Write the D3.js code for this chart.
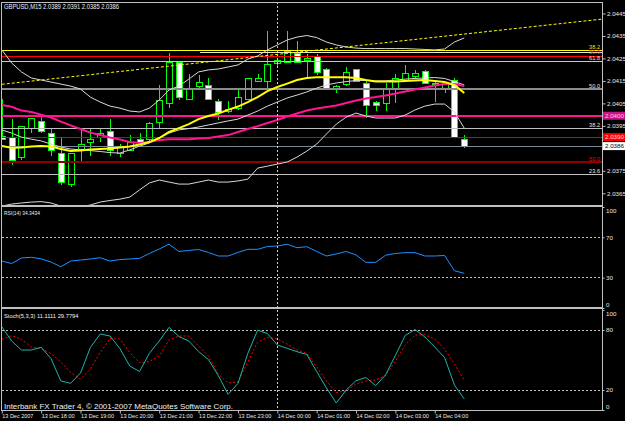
<!DOCTYPE html>
<html><head><meta charset="utf-8">
<script src="https://cdn.jsdelivr.net/npm/d3@7"></script>
<style>
body{margin:0;background:#000}
svg{display:block}
text{font-family:"Liberation Sans",Arial,sans-serif}
</style></head>
<body><svg id="c" width="625" height="421"></svg>
<script>
// ---------- DATA ----------
const mainTitle = "GBPUSD,M15  2.0389 2.0391 2.0385 2.0386";
const rsiTitle = "RSI(14) 34.3434";
const stochTitle = "Stoch(5,3,3) 11.1111 29.7794";
const copyright = "Interbank FX Trader 4, \u00a9 2001-2007 MetaQuotes Software Corp.";
const timeLabels = ["13 Dec 2007","13 Dec 18:00","13 Dec 19:00","13 Dec 20:00","13 Dec 21:00","13 Dec 22:00","13 Dec 23:00","14 Dec 00:00","14 Dec 01:00","14 Dec 02:00","14 Dec 03:00","14 Dec 04:00"];
const timeLabelBars = [0,4,8,12,16,20,24,28,32,36,40,44];
const separatorBar = 28;

const open  = [2.03902,2.03899,2.03810,2.03939,2.03969,2.03917,2.03828,2.03690,2.03843,2.03877,2.03899,2.03927,2.03828,2.03839,2.03890,2.03890,2.03967,2.04050,2.04231,2.04068,2.04127,2.04129,2.04058,2.04016,2.04028,2.04068,2.04147,2.04147,2.04228,2.04231,2.04270,2.04240,2.04258,2.04199,2.04110,2.04136,2.04199,2.04139,2.04053,2.04050,2.04110,2.04150,2.04171,2.04190,2.04134,2.04117,2.04154,2.0389];
const high  = [2.04070,2.03981,2.03949,2.03985,2.03988,2.03934,2.03900,2.03831,2.03941,2.03939,2.03939,2.03981,2.03869,2.03909,2.03918,2.03967,2.04132,2.04273,2.04234,2.04181,2.04176,2.04161,2.04068,2.04061,2.04110,2.04163,2.04181,2.04372,2.04252,2.04372,2.04329,2.04272,2.04272,2.04209,2.04130,2.04213,2.04203,2.04154,2.04061,2.04139,2.04181,2.04221,2.04199,2.04199,2.04147,2.04143,2.04165,2.0391];
const low   = [2.03885,2.03776,2.03798,2.03918,2.03918,2.03816,2.03687,2.03677,2.03786,2.03816,2.03877,2.03816,2.03810,2.03836,2.03869,2.03878,2.03939,2.04028,2.04065,2.04067,2.04110,2.04067,2.03978,2.04006,2.04021,2.04065,2.04145,2.04117,2.04216,2.04228,2.04228,2.04169,2.04176,2.04116,2.04098,2.04127,2.04145,2.03985,2.04018,2.04018,2.04050,2.04147,2.04162,2.04138,2.04058,2.04096,2.03899,2.0385];
const close = [2.03890,2.03798,2.03946,2.03981,2.03927,2.03839,2.03697,2.03828,2.03868,2.03890,2.03917,2.03839,2.03857,2.03878,2.03877,2.03961,2.04061,2.04231,2.04077,2.04117,2.04141,2.04068,2.04009,2.04024,2.04077,2.04159,2.04159,2.04221,2.04239,2.04279,2.04231,2.04251,2.04188,2.04117,2.04127,2.04188,2.04147,2.04040,2.04040,2.04117,2.04161,2.04181,2.04182,2.04139,2.04139,2.04139,2.03900,2.0386];

const bbUpper  = [2.04288,2.04230,2.04190,2.04163,2.04154,2.04145,2.04136,2.04127,2.04114,2.04078,2.04056,2.04038,2.04029,2.04016,2.04012,2.04029,2.04065,2.04110,2.04127,2.04158,2.04190,2.04199,2.04203,2.04212,2.04221,2.04247,2.04261,2.04288,2.04310,2.04332,2.04345,2.04352,2.04343,2.04323,2.04310,2.04301,2.04296,2.04294,2.04294,2.04294,2.04294,2.04294,2.04292,2.04290,2.04288,2.04292,2.04323,2.04341];
const bbMiddle = [2.03932,2.03918,2.03900,2.03891,2.03883,2.03869,2.03856,2.03847,2.03843,2.03840,2.03836,2.03831,2.03829,2.03843,2.03860,2.03874,2.03896,2.03918,2.03932,2.03938,2.03945,2.03954,2.03963,2.03972,2.03980,2.03998,2.04016,2.04038,2.04056,2.04074,2.04087,2.04101,2.04118,2.04132,2.04141,2.04147,2.04152,2.04152,2.04150,2.04150,2.04154,2.04158,2.04161,2.04163,2.04165,2.04161,2.04147,2.04132];
const bbLower  = [2.03593,2.03602,2.03607,2.03611,2.03613,2.03607,2.03593,2.03584,2.03589,2.03598,2.03611,2.03618,2.03624,2.03633,2.03665,2.03696,2.03709,2.03700,2.03691,2.03691,2.03700,2.03709,2.03700,2.03700,2.03705,2.03713,2.03762,2.03771,2.03780,2.03789,2.03811,2.03838,2.03869,2.03914,2.03958,2.03989,2.04007,2.03994,2.03985,2.03985,2.03985,2.03998,2.04021,2.04038,2.04047,2.04047,2.04012,2.03940];
const maFast   = [2.03860,2.03853,2.03854,2.03858,2.03860,2.03858,2.03847,2.03838,2.03840,2.03845,2.03847,2.03849,2.03854,2.03858,2.03867,2.03878,2.03896,2.03923,2.03940,2.03958,2.03980,2.03994,2.04005,2.04021,2.04036,2.04056,2.04078,2.04105,2.04123,2.04138,2.04154,2.04163,2.04166,2.04166,2.04166,2.04166,2.04163,2.04154,2.04147,2.04147,2.04147,2.04150,2.04152,2.04154,2.04150,2.04145,2.04132,2.04096];
const maSlow   = [2.04043,2.04035,2.04018,2.04012,2.04000,2.03987,2.03969,2.03952,2.03936,2.03920,2.03909,2.03898,2.03889,2.03878,2.03874,2.03878,2.03887,2.03891,2.03891,2.03891,2.03894,2.03896,2.03903,2.03909,2.03923,2.03936,2.03949,2.03963,2.03976,2.03992,2.04005,2.04018,2.04027,2.04034,2.04041,2.04052,2.04063,2.04072,2.04078,2.04085,2.04094,2.04103,2.04112,2.04121,2.04130,2.04136,2.04136,2.04127];

const rsi = [46.5,44.0,49.5,50.2,48.7,45.5,40.9,46.5,47.5,48.5,49.8,46.5,48.0,48.5,49.2,54.0,58.4,63.1,56.0,57.0,57.9,55.0,51.5,51.5,55.0,58.1,58.1,60.9,61.4,63.1,59.7,60.7,56.0,51.5,53.5,56.0,52.5,45.2,45.2,52.2,54.0,54.8,54.8,51.5,51.5,52.0,36.9,34.3434];
const stochMain = [83.3,69,60,60,62.7,51.5,29,26.7,37,62.5,76,74,61.5,44,38.5,56.7,69,82.7,73.5,69,58.5,50.5,34.5,15.7,26.5,56.5,79.8,76.5,65,61.7,58.3,55.5,38.5,22,7,20,29.3,32.5,24.5,35,54.5,74.5,80.5,73,63,52.5,25,11.1111];
const stochSignal = [70.7,74.3,70.7,63,61.5,56.5,48,37.5,31,41,57.5,71.5,71,57.5,47.2,48.5,54,70,74,74,64,54,36,27,28,48,68,72.5,71,66,60,56.5,43,29,17.5,19,26,29,30,34.5,49,65,75,75.2,71,61,46,29.7794];

const priceTicks = [2.0445,2.0435,2.0425,2.0415,2.0405,2.0395,2.0385,2.0375,2.0365];
const rsiTicks = [100,70,30,0];
const rsiLevels = [70,30];
const stochTicks = [100,80,20,0];
const stochLevels = [80,20];

const trendBars = [0,61];
const trendPrices = [2.04135,2.04425];

const levelPrices = [2.04286,2.04277,2.04259,2.04237,2.04113,2.03995,2.03940,2.0390,2.0386,2.03790,2.03734];
const levelLabels = ["38.2","","50.0","61.8","50.0","","38.2","","","50.0","23.6"];
const boxPrices = [2.03995,2.0390,2.0386];
const boxLabels = ["2.0400","2.0390","2.0386"];

// ---------- DRAWING ----------
const svg = d3.select("#c");
svg.append("rect").attr("width",625).attr("height",421).attr("fill","#000");

const LEFT = 1.5, RIGHT = 602.5;
const panels = {main:[2.5,205.5], rsi:[206.5,307.5], sto:[308.5,410.5]};

const x = d3.scaleLinear().domain([0,61]).range([1.8,602]);
const y = d3.scaleLinear().domain([2.0365,2.0445]).range([193.3,13.5]);
const yR = d3.scaleLinear().domain([0,100]).range([308,207]);
const yS = d3.scaleLinear().domain([0,100]).range([410,310]);

const defs = svg.append("defs");
Object.entries(panels).forEach(([k,[t,b]])=>{
  defs.append("clipPath").attr("id","clip-"+k).append("rect")
    .attr("x",LEFT).attr("y",t).attr("width",RIGHT-LEFT).attr("height",b-t);
});
const crisp = v => Math.round(v - 0.5) + 0.5;

// candles
const gMain = svg.append("g").attr("clip-path","url(#clip-main)");
const bars = d3.range(open.length);
const gC = gMain.append("g").attr("shape-rendering","crispEdges");
bars.forEach(i=>{
  const cx = Math.round(x(i)) + 0.5;
  const yo = y(open[i]), yc = y(close[i]);
  const top = crisp(Math.min(yo,yc));
  const bot = Math.max(crisp(Math.max(yo,yc)), top + 1);
  gC.append("line").attr("x1",cx).attr("x2",cx)
    .attr("y1",y(high[i])).attr("y2",y(low[i])).attr("stroke","#00ff00");
  gC.append("rect").attr("x",cx-3).attr("y",top).attr("width",6).attr("height",bot-top)
    .attr("fill", close[i] < open[i] ? "#ffffff" : "#000000").attr("stroke","#00ff00");
});

// horizontal levels
const levelStyle = [
  {c:"#ffff00",w:1.5,lc:"#e6e600",dy:-1.8},
  {c:"#e6e6e6",w:1,x0:200},
  {c:"#ff0000",w:1,lc:"#ff2a2a",dy:-2.2},
  {c:"#c8c8c8",w:1,lc:"#e6e6e6",dy:-1.2},
  {c:"#8c8c8c",w:2,lc:"#e6e6e6",dy:-1.5},
  {c:"#ff1493",w:2},
  {c:"#c0c0c0",w:1,lc:"#e6e6e6",dy:-1.5},
  {c:"#e00000",w:1},
  {c:"#778899",w:1},
  {c:"#8b0000",w:2,lc:"#ff0000",dy:-1.5},
  {c:"#c0c0c0",w:1,lc:"#e6e6e6",dy:-1.5}
];
const gL = gMain.append("g");
levelPrices.forEach((p,i)=>{
  const s = levelStyle[i];
  const yy = s.w===2 ? Math.round(y(p)) : crisp(y(p));
  gL.append("line").attr("x1",s.x0||LEFT).attr("x2",RIGHT).attr("y1",yy).attr("y2",yy)
    .attr("stroke",s.c).attr("stroke-width",s.w).attr("shape-rendering","crispEdges");
  if(levelLabels[i]) gL.append("text").attr("x",600).attr("y",yy+s.dy)
    .attr("text-anchor","end").attr("font-size",5.6).attr("fill",s.lc).text(levelLabels[i]);
});

// trend line
gMain.append("line").attr("x1",x(trendBars[0])).attr("x2",x(trendBars[1]))
  .attr("y1",y(trendPrices[0])).attr("y2",y(trendPrices[1]))
  .attr("stroke","#ffff00").attr("stroke-width",1).attr("stroke-dasharray","3,2");

// bollinger + MAs
const lineMain = arr => d3.line().x((d,i)=>x(i)).y(d=>y(d))(arr);
[bbUpper,bbMiddle,bbLower].forEach(a=>{
  gMain.append("path").attr("d",lineMain(a)).attr("fill","none").attr("stroke","#d8d8d8").attr("stroke-width",1);
});
gMain.append("path").attr("d",lineMain(maSlow)).attr("fill","none").attr("stroke","#ff1493").attr("stroke-width",2);
gMain.append("path").attr("d",lineMain(maFast)).attr("fill","none").attr("stroke","#ffff00").attr("stroke-width",2);

// RSI panel
const gR = svg.append("g").attr("clip-path","url(#clip-rsi)");
rsiLevels.forEach(v=>{
  gR.append("line").attr("x1",LEFT).attr("x2",RIGHT).attr("y1",crisp(yR(v))).attr("y2",crisp(yR(v)))
    .attr("stroke","#c0c0c0").attr("stroke-dasharray","2,2").attr("shape-rendering","crispEdges");
});
gR.append("path").attr("d",d3.line().x((d,i)=>x(i)).y(d=>yR(d))(rsi))
  .attr("fill","none").attr("stroke","#1e90ff").attr("stroke-width",1);

// Stoch panel
const gS = svg.append("g").attr("clip-path","url(#clip-sto)");
stochLevels.forEach(v=>{
  gS.append("line").attr("x1",LEFT).attr("x2",RIGHT).attr("y1",crisp(yS(v))).attr("y2",crisp(yS(v)))
    .attr("stroke","#c0c0c0").attr("stroke-dasharray","2,2").attr("shape-rendering","crispEdges");
});
gS.append("path").attr("d",d3.line().x((d,i)=>x(i)).y(d=>yS(d))(stochSignal))
  .attr("fill","none").attr("stroke","#ff0000").attr("stroke-width",1).attr("stroke-dasharray","2,2");
gS.append("path").attr("d",d3.line().x((d,i)=>x(i)).y(d=>yS(d))(stochMain))
  .attr("fill","none").attr("stroke","#20b2aa").attr("stroke-width",1);

// vertical separator (period)
const vx = Math.round(x(separatorBar)) + 0.5;
svg.append("line").attr("x1",vx).attr("x2",vx).attr("y1",2).attr("y2",410)
  .attr("stroke","#d0d0d0").attr("stroke-dasharray","2,2").attr("shape-rendering","crispEdges");

// panel frames
Object.values(panels).forEach(([t,b])=>{
  svg.append("rect").attr("x",LEFT).attr("y",t).attr("width",RIGHT-LEFT).attr("height",b-t)
    .attr("fill","none").attr("stroke","#c0c0c0").attr("shape-rendering","crispEdges");
});

// price axis (label under the bid box is hidden, as in the terminal)
const axP = svg.append("g").attr("transform","translate(602.5,0)")
  .call(d3.axisRight(y).tickValues(priceTicks)
    .tickFormat(d => boxPrices.some(b => Math.abs(y(b)-y(d)) < 4) ? "" : d.toFixed(4))
    .tickSize(3).tickPadding(1.5));
// RSI axis
const axR = svg.append("g").attr("transform","translate(602.5,0)")
  .call(d3.axisRight(yR).tickValues(rsiTicks).tickFormat(d3.format("d")).tickSize(2).tickPadding(1.5));
// Stoch axis
const axS = svg.append("g").attr("transform","translate(602.5,0)")
  .call(d3.axisRight(yS).tickValues(stochTicks).tickFormat(d3.format("d")).tickSize(2).tickPadding(1.5));
[axP,axR,axS].forEach(a=>{
  a.select(".domain").remove();
  a.selectAll(".tick line").attr("stroke","#c0c0c0");
  a.selectAll(".tick text").attr("fill","#e8e8e8").attr("font-size",6.2)
    .attr("font-family","'Liberation Sans',Arial,sans-serif");
});
[axR,axS].forEach(a=>{
  a.selectAll(".tick text").attr("dy",d=> d===100 ? "0.95em" : d===0 ? "-0.25em" : "0.32em");
});

// price boxes
const boxStyle = [{f:"#c71585",t:"#ffc8ec"},{f:"#ff0000",t:"#ffd8d8"},{f:"#ffffff",t:"#000000"}];
boxPrices.forEach((p,i)=>{
  const yy = y(p);
  svg.append("rect").attr("x",603).attr("y",yy-4).attr("width",22).attr("height",8).attr("fill",boxStyle[i].f);
  svg.append("text").attr("x",605).attr("y",yy+2.2).attr("font-size",6.2).attr("fill",boxStyle[i].t).text(boxLabels[i]);
});

// time axis
const axT = svg.append("g").attr("transform","translate(0,410.5)")
  .call(d3.axisBottom(x).tickValues(timeLabelBars).tickFormat((d,i)=>timeLabels[i]).tickSize(3).tickPadding(0.5));
axT.select(".domain").remove();
axT.selectAll(".tick line").attr("stroke","#c0c0c0");
axT.selectAll(".tick text").attr("fill","#e8e8e8").attr("font-size",5.8).attr("text-anchor","start")
  .attr("font-family","'Liberation Sans',Arial,sans-serif").attr("x",0)
  .attr("textLength",d=> d===0 ? 31 : 33).attr("lengthAdjust","spacingAndGlyphs");

// titles
svg.append("text").attr("x",4).attr("y",8.8).attr("font-size",6.5).attr("fill","#f0f0f0")
  .attr("textLength",115).attr("lengthAdjust","spacingAndGlyphs").text(mainTitle);
svg.append("text").attr("x",4).attr("y",215.2).attr("font-size",5.8).attr("fill","#f0f0f0")
  .attr("textLength",36).attr("lengthAdjust","spacingAndGlyphs").text(rsiTitle);
svg.append("text").attr("x",4).attr("y",317.8).attr("font-size",5.8).attr("fill","#f0f0f0")
  .attr("textLength",74.5).attr("lengthAdjust","spacingAndGlyphs").text(stochTitle);
svg.append("text").attr("x",4).attr("y",409.2).attr("font-size",8).attr("fill","#f0f0f0")
  .attr("textLength",229).attr("lengthAdjust","spacingAndGlyphs").text(copyright);
</script>
</body></html>
